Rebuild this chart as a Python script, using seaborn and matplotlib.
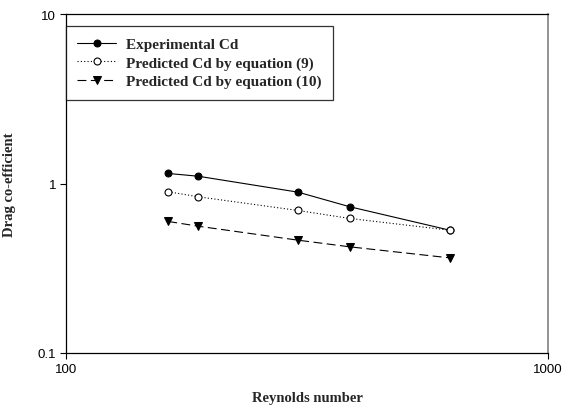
import pandas as pd
import matplotlib
matplotlib.use('Agg')
import matplotlib.pyplot as plt
import seaborn as sns
from matplotlib.ticker import NullLocator, FixedLocator, FixedFormatter

# data
reynolds = [163, 188, 303, 388, 626]
cd_experimental = [1.146, 1.104, 0.889, 0.729, 0.530]
cd_eq9 = [0.894, 0.835, 0.693, 0.622, 0.530]
cd_eq10 = [0.597, 0.560, 0.463, 0.423, 0.364]

labels = ['Experimental Cd', 'Predicted Cd by equation (9)', 'Predicted Cd by equation (10)']
x_ticks = [100, 1000]
y_ticks = [0.1, 1, 10]

sns.set_style('ticks')
plt.rcParams['font.family'] = ['Liberation Sans', 'DejaVu Sans']

fig = plt.figure(figsize=(5.63, 4.10), dpi=100)
ax = fig.add_axes([66 / 563, 1 - 354 / 410, (548 - 66) / 563, (354 - 15) / 410])

sns.lineplot(x=reynolds, y=cd_experimental, ax=ax, color='black', linestyle='-', linewidth=0.8,
             marker='o', markersize=5, markerfacecolor='black', markeredgecolor='black',
             label=labels[0])
sns.lineplot(x=reynolds, y=cd_eq9, ax=ax, color='black', linestyle=(0, (1, 2)), linewidth=0.8,
             marker='o', markersize=5, markerfacecolor='white', markeredgecolor='black',
             markeredgewidth=0.8, label=labels[1])
sns.lineplot(x=reynolds, y=cd_eq10, ax=ax, color='black', linestyle=(0, (8, 4)), linewidth=0.8,
             marker='v', markersize=5.5, markerfacecolor='black', markeredgecolor='black',
             label=labels[2])

ax.set_xscale('log')
ax.set_yscale('log')
ax.set_xlim(100, 1000)
ax.set_ylim(0.1, 10)
ax.xaxis.set_major_locator(FixedLocator(x_ticks))
ax.xaxis.set_major_formatter(FixedFormatter([str(t) for t in x_ticks]))
ax.yaxis.set_major_locator(FixedLocator(y_ticks))
ax.yaxis.set_major_formatter(FixedFormatter(['0.1', '1', '10']))
ax.xaxis.set_minor_locator(NullLocator())
ax.yaxis.set_minor_locator(NullLocator())
ax.tick_params(direction='out', length=4, width=0.8, labelsize=9.5, colors='black', pad=3)

for side in ['left', 'top', 'bottom']:
    ax.spines[side].set_color('black')
    ax.spines[side].set_linewidth(0.9)
ax.spines['right'].set_color('#808080')
ax.spines['right'].set_linewidth(1.2)

serif_bold = {'family': ['Liberation Serif', 'DejaVu Serif'], 'weight': 'bold', 'size': 10.5}
ax.set_xlabel('Reynolds number', fontdict=serif_bold, labelpad=12)
ax.set_ylabel('Drag co-efficient', fontdict=serif_bold, labelpad=16)

leg = ax.legend(loc='upper left', bbox_to_anchor=(0.0, 1 - 12 / 339), borderaxespad=0,
                frameon=True, fancybox=False, edgecolor='black', handlelength=2.5,
                handletextpad=0.65, labelspacing=0.3, borderpad=0.75,
                prop={'family': ['Liberation Serif', 'DejaVu Serif'], 'weight': 'bold', 'size': 11})
leg.get_frame().set_linewidth(0.9)

fig.savefig('out.png', dpi=100)
